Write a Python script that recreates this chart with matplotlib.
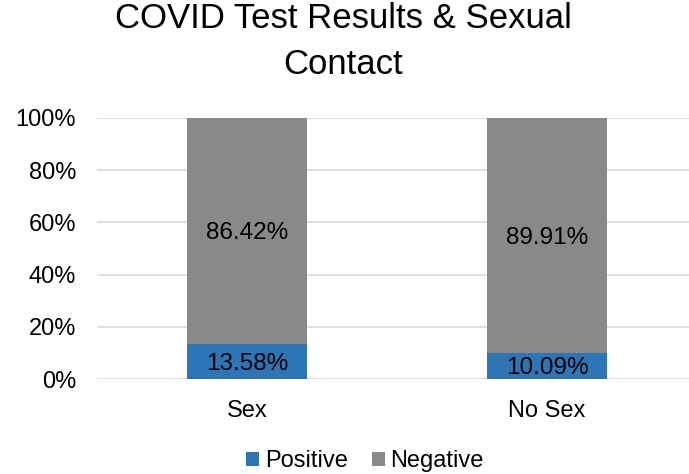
import matplotlib
matplotlib.use('Agg')
import matplotlib.pyplot as plt
from matplotlib.ticker import FuncFormatter

plt.rcParams['font.family'] = ['Liberation Sans', 'DejaVu Sans']

categories = ['Sex', 'No Sex']
positive = [13.58, 10.09]
negative = [86.42, 89.91]
yticks = [0, 20, 40, 60, 80, 100]

blue = '#2E75B6'
gray = '#898989'

fig = plt.figure(figsize=(6.89, 4.74), dpi=100)
ax = fig.add_axes([97 / 689, 95 / 474, 592 / 689, 261 / 474])

x = list(range(len(categories)))
width = 0.397
ax.bar(x, positive, width, color=blue, label='Positive', zorder=3)
ax.bar(x, negative, width, bottom=positive, color=gray, label='Negative', zorder=3)

for i in x:
    ax.text(i, positive[i] / 2, f'{positive[i]:.2f}%', ha='center', va='center_baseline',
            fontsize=17.5, color='#000000', zorder=4)
    ax.text(i, positive[i] + negative[i] / 2, f'{negative[i]:.2f}%', ha='center',
            va='center_baseline', fontsize=17.5, color='#000000', zorder=4)

ax.set_xlim(-0.5, -0.5 + 592 / 300)
ax.set_ylim(0, 100)
ax.set_yticks(yticks)
ax.yaxis.set_major_formatter(FuncFormatter(lambda v, p: f'{v:.0f}%'))
ax.set_xticks(x)
ax.set_xticklabels(categories)
ax.tick_params(axis='both', length=0, labelsize=17, colors='#000000')
ax.tick_params(axis='x', pad=15)
ax.tick_params(axis='y', pad=15)
ax.grid(axis='y', color='#D9D9D9', linewidth=1.2, zorder=0)
for s in ax.spines.values():
    s.set_visible(False)

fig.text(343 / 689, 1 - 18 / 474, 'COVID Test Results & Sexual', ha='center', va='center',
         fontsize=25)
fig.text(343 / 689, 1 - 64 / 474, 'Contact', ha='center', va='center', fontsize=25)

fig.legend(loc='center', bbox_to_anchor=(365 / 689, 1 - 461 / 474), ncol=2, frameon=False,
           fontsize=17, handlelength=0.55, handleheight=0.55, handletextpad=0.25,
           columnspacing=1.0)

fig.savefig('out.png', dpi=100, facecolor='white')
